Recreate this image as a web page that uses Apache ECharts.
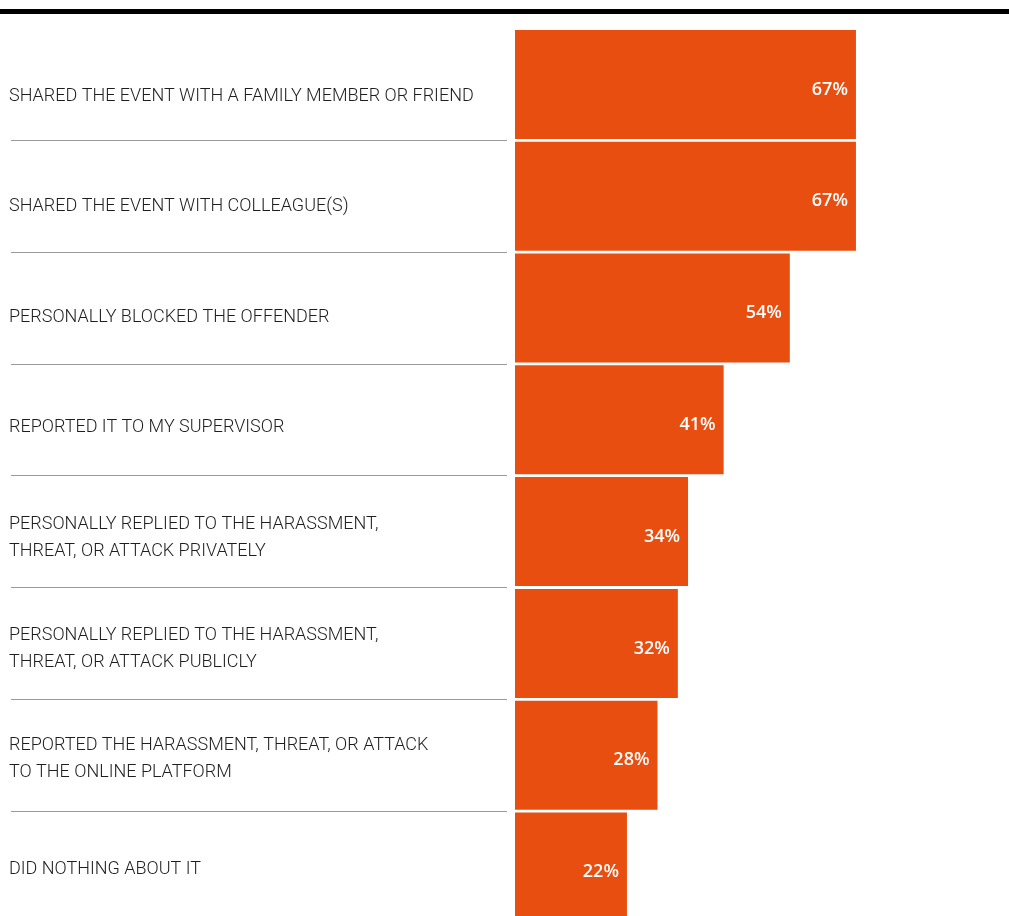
<!DOCTYPE html>
<html>
<head>
<meta charset="utf-8">
<script src="https://cdn.jsdelivr.net/npm/echarts@6/dist/echarts.min.js"></script>
<style>
  html, body { margin: 0; padding: 0; background: #fff; overflow: hidden; }
  /* taller than the window so the last row runs off the bottom edge */
  #chart { width: 1009px; height: 940px; }
</style>
</head>
<body>
<div id="chart"></div>
<script>
// Responses, top to bottom
const categories = [
  'SHARED THE EVENT WITH A FAMILY MEMBER OR FRIEND',
  'SHARED THE EVENT WITH COLLEAGUE(S)',
  'PERSONALLY BLOCKED THE OFFENDER',
  'REPORTED IT TO MY SUPERVISOR',
  'PERSONALLY REPLIED TO THE HARASSMENT,\nTHREAT, OR ATTACK PRIVATELY',
  'PERSONALLY REPLIED TO THE HARASSMENT,\nTHREAT, OR ATTACK PUBLICLY',
  'REPORTED THE HARASSMENT, THREAT, OR ATTACK\nTO THE ONLINE PLATFORM',
  'DID NOTHING ABOUT IT'
];
// Share of respondents (%)
const shares = [67, 67, 54, 41, 34, 32, 28, 22];

const N = categories.length;
const BAND = 111.8;        // height of one bar row
const TOP = 28.5;          // top of the first bar row
const BAR_LEFT = 515;
const LABEL_BAND = 110.5;  // label rows sit on a slightly tighter pitch
const LABEL_TOP = 41;

const chart = echarts.init(document.getElementById('chart'));
chart.setOption({
  animation: false,
  grid: [
    // bars
    { left: BAR_LEFT, top: TOP, width: 458, height: BAND * N },
    // category labels
    { left: 9, top: LABEL_TOP, width: 500, height: LABEL_BAND * N },
    // row separators under the labels
    { left: 11, top: TOP + BAND, width: 496, height: BAND * (N - 1) }
  ],
  xAxis: [
    { gridIndex: 0, type: 'value', min: 0, max: 90, show: false },
    { gridIndex: 1, type: 'value', min: 0, max: 1, show: false },
    { gridIndex: 2, type: 'value', min: 0, max: 1, show: false }
  ],
  yAxis: [
    {
      gridIndex: 0,
      type: 'category',
      data: categories,
      inverse: true,
      show: false
    },
    {
      gridIndex: 1,
      type: 'category',
      data: categories,
      inverse: true,
      axisLine: { show: false },
      axisTick: { show: false },
      splitLine: { show: false },
      axisLabel: {
        inside: true,
        align: 'left',
        margin: 0,
        fontFamily: 'Roboto',
        fontSize: 18,
        fontWeight: 300,
        color: '#1e1e1e',
        lineHeight: 27
      }
    },
    {
      gridIndex: 2,
      type: 'value',
      min: 1,
      max: N,
      interval: 1,
      inverse: true,
      axisLine: { show: false },
      axisTick: { show: false },
      axisLabel: { show: false },
      splitLine: { show: true, lineStyle: { color: '#9a9a9a', width: 1 } }
    }
  ],
  graphic: [
    { type: 'rect', left: 0, top: 9, shape: { width: 1009, height: 5 }, style: { fill: '#000' } }
  ],
  series: [
    {
      type: 'bar',
      xAxisIndex: 0,
      yAxisIndex: 0,
      data: shares,
      barCategoryGap: '2.5%',
      itemStyle: { color: '#e84e10' },
      label: {
        show: true,
        position: 'insideRight',
        distance: 8,
        offset: [0, 5],
        formatter: p => p.value + '%',
        color: '#fff',
        fontFamily: 'Open Sans',
        fontWeight: 600,
        fontSize: 18
      }
    }
  ]
});
</script>
</body>
</html>
